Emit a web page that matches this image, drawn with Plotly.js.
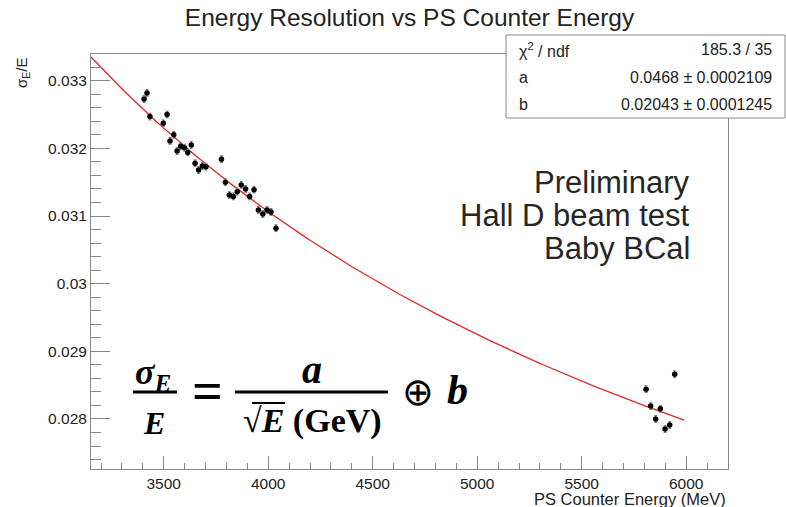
<!DOCTYPE html>
<html><head><meta charset="utf-8">
<script src="https://cdn.plot.ly/plotly-3.0.1.min.js"></script>
<style>html,body{margin:0;padding:0;background:#fff}</style>
</head><body><div id="chart" style="width:786px;height:507px"></div>
<script>
// ---- data ----
const energyMeV = [3406, 3420, 3434, 3498, 3516, 3530, 3548, 3564, 3581, 3599, 3615, 3632, 3650, 3667, 3685, 3702, 3776, 3795, 3814, 3833, 3852, 3871, 3892, 3911, 3932, 3953, 3974, 3994, 4013, 4037, 5808, 5830, 5854, 5876, 5899, 5921, 5945];
const sigmaOverE = [0.03273, 0.03282, 0.03247, 0.03237, 0.03250, 0.03211, 0.03220, 0.03196, 0.03203, 0.03201, 0.03194, 0.03205, 0.03178, 0.03168, 0.03174, 0.03173, 0.03184, 0.03150, 0.03131, 0.03129, 0.03136, 0.03146, 0.03140, 0.03129, 0.03139, 0.03109, 0.03103, 0.03109, 0.03106, 0.03082, 0.02844, 0.02819, 0.02800, 0.02815, 0.02785, 0.02791, 0.02866];
const sigmaErr = 0.00005;
const energyErr = 8;
// fit parameters (from stats box)
const fitA = 0.0468, fitAErr = 0.0002109;
const fitB = 0.02043, fitBErr = 0.0001245;
const chi2 = 185.3, ndf = 35;
const fitRangeMeV = [3152, 5990];
const xTickVals = [3500, 4000, 4500, 5000, 5500, 6000];
const yTickVals = [0.028, 0.029, 0.03, 0.031, 0.032, 0.033];
const yTickText = ['0.028', '0.029', '0.03', '0.031', '0.032', '0.033'];
const labelLines = ['Preliminary', 'Hall D beam test', 'Baby BCal'];

// fit curve: sigma/E = a/sqrt(E[GeV]) (+) b
const fitX = [], fitY = [];
for (let i = 0; i <= 200; i++) {
  const e = fitRangeMeV[0] + (fitRangeMeV[1] - fitRangeMeV[0]) * i / 200;
  const t = fitA / Math.sqrt(e / 1000);
  fitX.push(e); fitY.push(Math.sqrt(t * t + fitB * fitB));
}

// ---- layout helpers (pixel -> paper) ----
const L = 91, R = 58, T = 54, B = 38, W = 786, H = 507;
const pw = W - L - R, ph = H - T - B;
const px = x => (x - L) / pw;
const py = y => (H - B - y) / ph;

const sans = 'Liberation Sans, Arial, Helvetica, sans-serif';
const serif = 'Liberation Serif, Times New Roman, serif';
const txt = '#222';

function ann(text, x, y, opts) {
  return Object.assign({text: text, xref: 'paper', yref: 'paper', x: px(x), y: py(y),
    showarrow: false, xanchor: 'center', yanchor: 'middle',
    font: {family: sans, size: 16, color: txt}}, opts || {});
}

const annotations = [
  // axis titles
  ann('PS Counter Energy (MeV)', 728, 499, {xanchor: 'right', font: {family: sans, size: 16.5, color: txt}}),
  ann('σ<sub>E</sub>/E', 22, 56, {textangle: -90, yanchor: 'top', font: {family: sans, size: 15, color: txt}}),
  // stats box
  ann('χ<sup>2</sup> / ndf', 517, 50, {xanchor: 'left', font: {family: sans, size: 16, color: txt}}),
  ann(chi2.toFixed(1) + ' / ' + ndf, 774, 50, {xanchor: 'right', font: {family: sans, size: 16, color: txt}}),
  ann('a', 517, 77, {xanchor: 'left', font: {family: sans, size: 16, color: txt}}),
  ann(fitA + ' ± ' + fitAErr, 774, 77, {xanchor: 'right', font: {family: sans, size: 16, color: txt}}),
  ann('b', 517, 104, {xanchor: 'left', font: {family: sans, size: 16, color: txt}}),
  ann(fitB + ' ± ' + fitBErr, 774, 104, {xanchor: 'right', font: {family: sans, size: 16, color: txt}}),
  // formula
  ann('<b><i>σ<sub>E</sub></i></b>', 153, 374, {font: {family: serif, size: 36, color: '#000'}}),
  ann('<b><i>E</i></b>', 154, 423, {font: {family: serif, size: 32, color: '#000'}}),
  ann('<b>=</b>', 207, 391, {font: {family: serif, size: 54, color: '#000'}}),
  ann('<b><i>a</i></b>', 312, 369, {font: {family: serif, size: 40, color: '#000'}}),
  ann('<b>√<i>E</i> (GeV)</b>', 312, 421, {font: {family: serif, size: 34, color: '#000'}}),
  ann('⊕', 418, 392, {font: {family: 'DejaVu Sans, sans-serif', size: 38, color: '#000'}}),
  ann('<b><i>b</i></b>', 457, 390, {font: {family: serif, size: 42, color: '#000'}})
];
const labelY = [182, 215, 248];
labelLines.forEach((s, i) => annotations.push(
  ann(s, 692, labelY[i], {xanchor: 'right', font: {family: sans, size: 31, color: '#262626'}})));

const shapes = [
  {type: 'rect', xref: 'paper', yref: 'paper', x0: px(506), x1: px(785), y0: py(35), y1: py(118),
   fillcolor: '#fff', line: {color: '#888', width: 1}, layer: 'above'},
  {type: 'line', xref: 'paper', yref: 'paper', x0: px(133), x1: px(177), y0: py(392), y1: py(392),
   line: {color: '#000', width: 3}},
  {type: 'line', xref: 'paper', yref: 'paper', x0: px(235), x1: px(388), y0: py(392), y1: py(392),
   line: {color: '#000', width: 3}},
  {type: 'line', xref: 'paper', yref: 'paper', x0: px(252), x1: px(285), y0: py(403), y1: py(403),
   line: {color: '#000', width: 2}}
];

const traces = [
  {x: fitX, y: fitY, type: 'scatter', mode: 'lines', line: {color: 'rgb(228,40,40)', width: 1.3},
   hoverinfo: 'skip', showlegend: false},
  {x: energyMeV, y: sigmaOverE, type: 'scatter', mode: 'markers',
   marker: {color: '#000', size: 5.5},
   error_y: {type: 'constant', value: sigmaErr, color: '#777', thickness: 1, width: 1.5},
   error_x: {type: 'constant', value: energyErr, color: '#777', thickness: 1, width: 0},
   showlegend: false}
];

const axisCommon = {showgrid: false, zeroline: false, showline: true, mirror: true,
  linecolor: '#888', linewidth: 1, ticks: 'inside', tickcolor: '#888', tickwidth: 1,
  tickfont: {family: sans, size: 15.5, color: txt}};

const layout = {
  width: W, height: H, margin: {l: L, r: R, t: T, b: B, pad: 0},
  paper_bgcolor: '#fff', plot_bgcolor: '#fff', showlegend: false,
  title: {text: 'Energy Resolution vs PS Counter Energy', x: 409.5 / W, xanchor: 'center',
          y: 1 - 17 / H, yanchor: 'middle', font: {family: sans, size: 24.5, color: txt}},
  xaxis: Object.assign({}, axisCommon, {range: [3152, 6200], tickvals: xTickVals,
    ticklen: 13, minor: {dtick: 100, ticklen: 6, tickcolor: '#888', ticks: 'inside'}}),
  yaxis: Object.assign({}, axisCommon, {range: [0.02726, 0.033395], tickvals: yTickVals, ticktext: yTickText,
    ticklen: 19, minor: {dtick: 0.0002, ticklen: 10, tickcolor: '#888', ticks: 'inside'}}),
  annotations: annotations, shapes: shapes
};

Plotly.newPlot('chart', traces, layout, {displayModeBar: false, staticPlot: true});
</script></body></html>
